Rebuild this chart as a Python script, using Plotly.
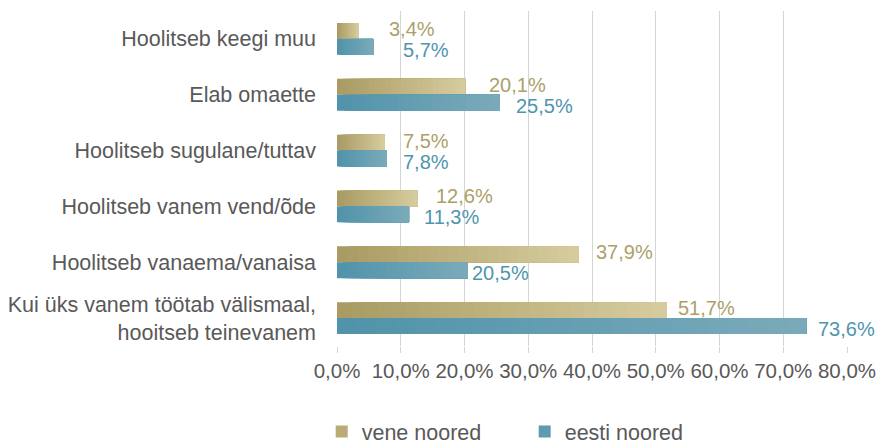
import plotly.graph_objects as go

# Categories (top to bottom) and shares per group, in percent
categories = [
    "Hoolitseb keegi muu",
    "Elab omaette",
    "Hoolitseb sugulane/tuttav",
    "Hoolitseb vanem vend/õde",
    "Hoolitseb vanaema/vanaisa",
    "Kui üks vanem töötab välismaal,<br>hooitseb teinevanem",
]
vene_noored = [3.4, 20.1, 7.5, 12.6, 37.9, 51.7]
eesti_noored = [5.7, 25.5, 7.8, 11.3, 20.5, 73.6]
x_ticks = [0, 10, 20, 30, 40, 50, 60, 70, 80]
x_tick_labels = ["0,0%", "10,0%", "20,0%", "30,0%", "40,0%", "50,0%", "60,0%", "70,0%", "80,0%"]

# horizontal gap (px) between each bar end and its value label
vene_label_gap = [29, 23, 17, 18, 16, 10]
eesti_label_gap = [29, 15, 15, 14, 3, 11]

FONT = "Liberation Sans, Arial, sans-serif"
GREY_TEXT = "#595959"
GRID = "#d3d6d6"

series = [
    # name, values, gradient start, gradient end, label colour, bar offset, label shift, gaps
    ("vene noored", vene_noored, (168, 154, 98), (215, 204, 158), "#ad9f69", -0.285, 10, vene_label_gap),
    ("eesti noored", eesti_noored, (80, 147, 170), (123, 170, 186), "#4f95ad", 0.0, -11, eesti_label_gap),
]

N_STEPS = 24
BAR_W = 0.285


def mix(c0, c1, t):
    return "rgb({},{},{})".format(*[round(a + (b - a) * t) for a, b in zip(c0, c1)])


fig = go.Figure()
for name, vals, c0, c1, label_col, off, lshift, gaps in series:
    # horizontal gradient: each step starts further right and runs to the bar end
    for k in range(N_STEPS):
        frac = k / N_STEPS
        bases = [v * frac for v in vals]
        lengths = [v - b for v, b in zip(vals, bases)]
        fig.add_trace(go.Bar(
            y=categories, x=lengths, base=bases, orientation="h",
            width=BAR_W, offset=off,
            marker=dict(color=mix(c0, c1, frac + 0.5 / N_STEPS), line=dict(width=0)),
            name=name, legendgroup=name, showlegend=(k == N_STEPS // 3),
            hoverinfo="skip",
        ))
    for cat, v, gap in zip(categories, vals, gaps):
        fig.add_annotation(
            x=v, y=cat, yshift=lshift, xshift=gap - 1,
            text=f"{v:.1f}%".replace(".", ","),
            xanchor="left", yanchor="middle", showarrow=False,
            font=dict(family=FONT, size=20, color=label_col),
        )

fig.update_layout(
    width=883, height=445,
    margin=dict(l=337, r=36, t=11, b=99, autoexpand=False),
    paper_bgcolor="white", plot_bgcolor="white",
    barmode="overlay",
    font=dict(family=FONT, size=20, color=GREY_TEXT),
    showlegend=True,
    legend=dict(
        orientation="h", x=-0.03, xanchor="left", y=-0.255, yanchor="middle",
        font=dict(family=FONT, size=21.5, color=GREY_TEXT),
        entrywidth=158, entrywidthmode="pixels", traceorder="normal",
        itemclick=False, itemdoubleclick=False,
    ),
    xaxis=dict(
        range=[0, 80], tickvals=x_ticks, ticktext=x_tick_labels,
        showgrid=True, gridcolor=GRID, gridwidth=1,
        ticks="outside", ticklen=6, tickcolor=GRID,
        zeroline=False, showline=False, ticklabelstandoff=0,
        tickfont=dict(family=FONT, size=20.5, color=GREY_TEXT),
    ),
    yaxis=dict(
        range=[5.5, -0.5], type="category", showgrid=False, zeroline=False,
        ticks="", ticklabelstandoff=20,
        tickfont=dict(family=FONT, size=21.5, color=GREY_TEXT),
    ),
)

fig.write_html("out.html")
